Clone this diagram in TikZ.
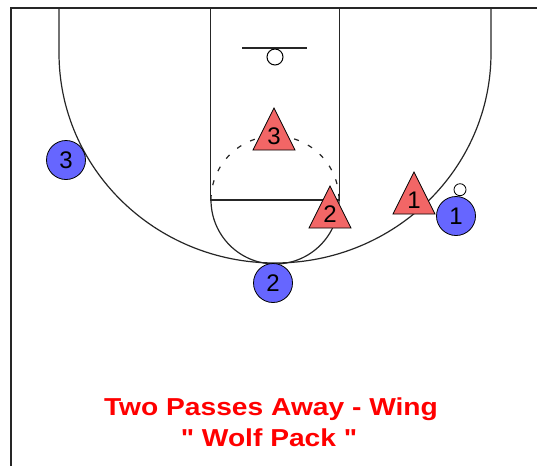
\documentclass[tikz,border=0pt]{standalone}
\usepackage{fontspec}
\setmainfont{Liberation Sans}[Ligatures=TeXOff]
\usetikzlibrary{positioning}
\definecolor{offenseblue}{RGB}{102,102,255}
\definecolor{defensered}{RGB}{242,102,102}
\definecolor{headred}{RGB}{255,0,0}

\begin{document}
\begin{tikzpicture}[x=1pt, y=-1pt,
		court/.style={line width=1.2pt, black!85},
		offense/.style={circle, draw=black, line width=0.8pt, fill=offenseblue, minimum size=39pt, inner sep=0pt, font=\fontsize{24}{24}\selectfont},
		defense/.style={draw=black, line width=0.8pt, fill=defensered},
		num/.style={inner sep=0pt, font=\fontsize{24}{24}\selectfont},
		headline/.style={text=headred, anchor=base, inner sep=0pt, font=\fontsize{24.5}{26}\selectfont\bfseries}]
	\useasboundingbox (0,0) rectangle (537,466);
	
	% Draw the Border
	\draw[line width=2.4pt, black!85] (11,466) -- (11,8) -- (537,8);
	
	% Draw the Three Point Line
	\draw[court] (59,8) -- (59,53) arc[start angle=180, end angle=0, x radius=216, y radius=210] -- (491,8);
	
	% Draw the Lane and Free Throw Circle
	\draw[court] (210.5,8) -- (210.5,200) -- (339.5,200) -- (339.5,8);
	\draw[court] (339,200) arc[start angle=0, end angle=180, radius=64];
	\draw[court, dash pattern=on 5pt off 10pt] (211,200) arc[start angle=180, end angle=360, radius=64];
	
	% Draw the Backboard and Rim
	\draw[court] (242,48) -- (307,48);
	\draw[line width=1pt, fill=white] (275,57) circle (8);
	
	% Draw the Defenders
	\foreach \n/\x/\y in {3/274/150, 2/330/228, 1/414/214}{
		\filldraw[defense] (\x-21,\y) -- (\x,\y-42) -- (\x+21,\y) -- cycle;
		\node[num] (x\n) at (\x,\y-14) {\n};
	}
	
	% Draw the Offense
	\node[offense] (o3) at (66,160) {3};
	\node[offense] (o2) at (273,283) {2};
	\node[offense] (o1) at (456,216) {1};
	\node[circle, draw, line width=0.8pt, fill=white, minimum size=12pt, inner sep=0pt, above=0pt of o1, xshift=4pt] (ball) {};
	
	% Draw the Title
	\node[headline] (head) at (271,415) {\scalebox{1.15}[1]{Two Passes Away - Wing}};
	\node[headline] (sub) at (269,446.5) {\scalebox{1.15}[1]{" Wolf Pack "}};
	
\end{tikzpicture}
\end{document}
